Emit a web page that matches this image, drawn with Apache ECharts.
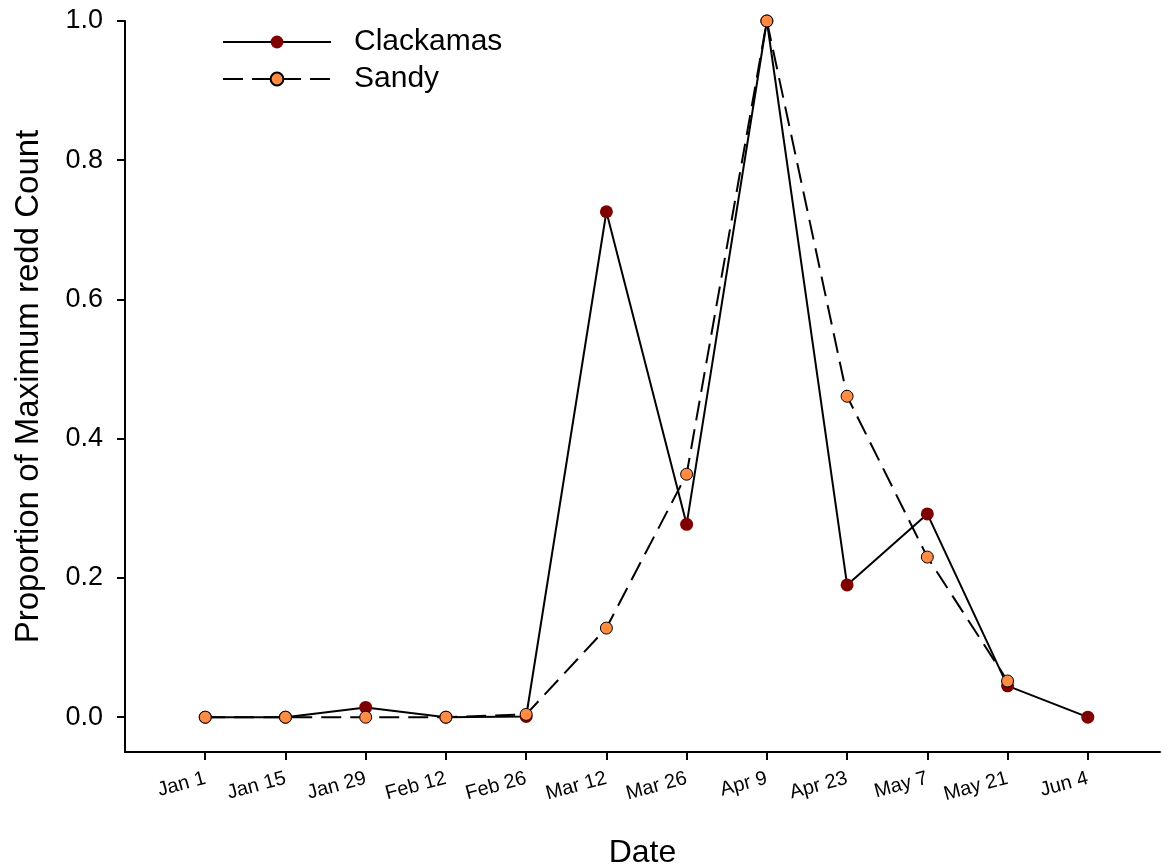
<!DOCTYPE html>
<html>
<head>
<meta charset="utf-8">
<script src="https://cdn.jsdelivr.net/npm/echarts@6/dist/echarts.min.js"></script>
<style>
  html, body { margin: 0; padding: 0; background: #fff; }
  #chart { width: 1162px; height: 867px; }
</style>
</head>
<body>
<div id="chart"></div>
<script>
const dates = ['Jan 1', 'Jan 15', 'Jan 29', 'Feb 12', 'Feb 26', 'Mar 12', 'Mar 26', 'Apr 9', 'Apr 23', 'May 7', 'May 21', 'Jun 4'];
const clackamas = [0, 0, 0.014, 0, 0.001, 0.726, 0.277, 1.0, 0.19, 0.292, 0.045, 0];
const sandy = [0, 0, 0, 0, 0.004, 0.128, 0.349, 1.0, 0.461, 0.23, 0.052, null];
const yTicks = [0, 0.2, 0.4, 0.6, 0.8, 1.0];

const font = 'Liberation Sans, Arial, sans-serif';
const toPairs = arr => arr.map((v, i) => [i, v]).filter(p => p[1] !== null);
const xPos = dates.map((d, i) => i);

const myChart = echarts.init(document.getElementById('chart'));
const option = {
  animation: false,
  textStyle: { fontFamily: font },
  legend: {
    left: 217,
    top: 22,
    orient: 'vertical',
    itemWidth: 108,
    itemHeight: 16,
    itemGap: 7,
    textStyle: { fontSize: 30, color: '#000', padding: [0, 0, 0, 18] },
    data: ['Clackamas', 'Sandy']
  },
  grid: {
    left: 125,
    right: 2,
    top: 21,
    bottom: 115,
    outerBoundsMode: 'none'
  },
  xAxis: {
    type: 'value',
    min: -1,
    max: 11.9,
    splitLine: { show: false },
    axisLine: { onZero: false, lineStyle: { color: '#000', width: 2 } },
    axisTick: {
      customValues: xPos,
      length: 8,
      lineStyle: { color: '#000', width: 2 }
    },
    axisLabel: {
      customValues: xPos,
      formatter: v => dates[v],
      rotate: 15,
      fontSize: 20,
      color: '#000',
      margin: 26
    },
    name: 'Date',
    nameLocation: 'middle',
    nameGap: 85,
    nameTextStyle: { fontSize: 32, color: '#000' }
  },
  yAxis: {
    type: 'value',
    min: -0.05,
    max: 1.0,
    splitLine: { show: false },
    axisLine: { show: true, onZero: false, lineStyle: { color: '#000', width: 2 } },
    axisTick: {
      show: true,
      customValues: yTicks,
      length: 8,
      lineStyle: { color: '#000', width: 2 }
    },
    axisLabel: {
      customValues: yTicks,
      formatter: v => v.toFixed(1),
      fontSize: 27,
      color: '#000',
      margin: 22
    },
    name: 'Proportion of Maximum redd Count',
    nameLocation: 'middle',
    nameGap: 80,
    nameTextStyle: { fontSize: 33, color: '#000' }
  },
  series: [
    {
      name: 'Clackamas',
      type: 'line',
      data: toPairs(clackamas),
      symbol: 'circle',
      symbolSize: 13,
      lineStyle: { color: '#000', width: 2 },
      itemStyle: { color: '#7f0000', borderWidth: 0 }
    },
    {
      name: 'Sandy',
      type: 'line',
      data: toPairs(sandy),
      symbol: 'circle',
      symbolSize: 12,
      lineStyle: { color: '#000', width: 2, type: [20, 9] },
      itemStyle: { color: '#ff8c42', borderColor: '#000', borderWidth: 1 }
    }
  ]
};

myChart.setOption(option);
window.addEventListener('resize', function () {
  myChart.resize();
});
</script>
</body>
</html>
